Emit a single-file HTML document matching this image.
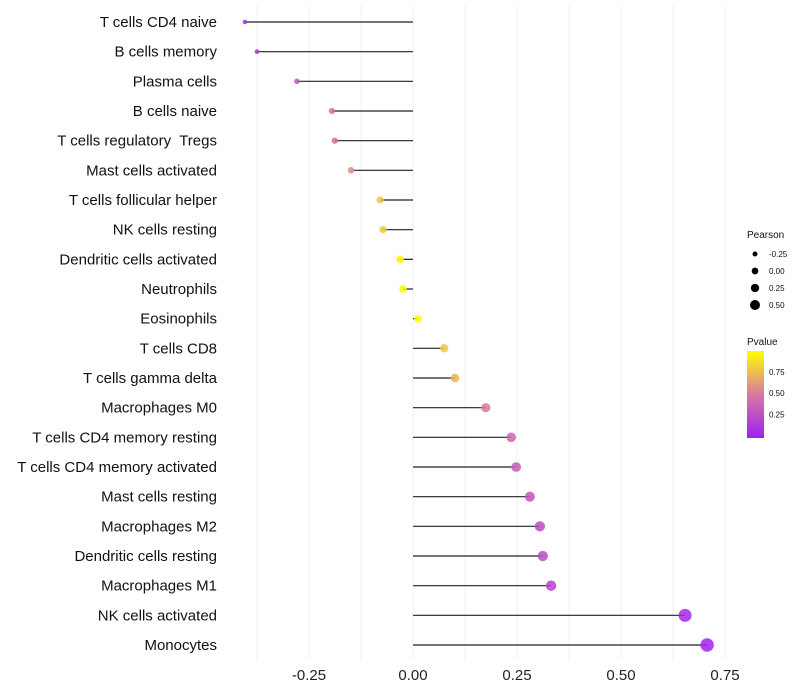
<!DOCTYPE html>
<html><head><meta charset="utf-8"><style>
body{margin:0;background:#fff;font-family:"Liberation Sans",sans-serif}
svg{display:block}
text{white-space:pre}
</style></head><body>
<svg id="chart" width="800" height="700"></svg>
<script>
const categories=["T cells CD4 naive","B cells memory","Plasma cells","B cells naive","T cells regulatory  Tregs","Mast cells activated","T cells follicular helper","NK cells resting","Dendritic cells activated","Neutrophils","Eosinophils","T cells CD8","T cells gamma delta","Macrophages M0","T cells CD4 memory resting","T cells CD4 memory activated","Mast cells resting","Macrophages M2","Dendritic cells resting","Macrophages M1","NK cells activated","Monocytes"];
const pearson=[-0.404,-0.375,-0.279,-0.195,-0.188,-0.149,-0.079,-0.072,-0.031,-0.024,0.012,0.075,0.101,0.175,0.236,0.248,0.281,0.305,0.312,0.332,0.654,0.707];
const pvalue=[0.08,0.1,0.3,0.45,0.45,0.58,0.78,0.8,0.95,0.97,1.0,0.78,0.72,0.5,0.4,0.35,0.3,0.25,0.25,0.2,0.05,0.02];
const xTicks=[-0.25,0,0.25,0.5,0.75];
const xTickLabels=["-0.25","0.00","0.25","0.50","0.75"];
const minorTicks=[-0.375,-0.125,0.125,0.375,0.625];
const sizeLegend=[-0.25,0,0.25,0.5];
const sizeLegendLabels=["-0.25","0.00","0.25","0.50"];
const colorTicks=[0.25,0.5,0.75];

const NS="http://www.w3.org/2000/svg";
const svg=document.getElementById('chart');
const x=v=>413+v*416;
const y=i=>22+i*(623/21);
const r=v=>3.9+v*4;
function lerp(a,b,t){return a.map((c,i)=>Math.round(c+(b[i]-c)*t));}
function col(p){const A=[160,32,240],M=[216,120,160],B=[255,255,0];
 const c=p<0.5?lerp(A,M,p/0.5):lerp(M,B,(p-0.5)/0.5);return `rgb(${c})`;}
function el(t,a){const e=document.createElementNS(NS,t);for(const k in a)e.setAttribute(k,a[k]);svg.appendChild(e);return e;}

[...xTicks,...minorTicks].forEach(v=>{
 const g=el('line',{x1:x(v),x2:x(v),y1:5,y2:660,stroke:'#f0f0f0','stroke-width':1});
 
 
});
xTicks.forEach((v,i)=>{
 const t=el('text',{x:x(v),y:680,'text-anchor':'middle','font-size':15,fill:'#222'});
 t.textContent=xTickLabels[i];
 
 
});
categories.forEach((c,i)=>{
 const t=el('text',{x:217,y:y(i)+5,'text-anchor':'end','font-size':15,fill:'#111'});
 t.textContent=c;
 
 
 const l=el('line',{x1:x(0),x2:x(pearson[i]),y1:y(i),y2:y(i),stroke:'#222','stroke-width':1.2});
 
 
 const d=el('circle',{cx:x(pearson[i]),cy:y(i),r:r(pearson[i]),fill:col(pvalue[i]),'fill-opacity':0.85});
 
 
});
const lt=el('text',{x:747,y:238,'font-size':10,fill:'#111'});lt.textContent='Pearson';


sizeLegend.forEach((v,i)=>{
 const cy=254+i*17;
 const c=el('circle',{cx:755,cy:cy,r:r(v)*0.85,fill:'#000'});
 
 
 const t=el('text',{x:769,y:cy+3,'font-size':8,fill:'#111'});t.textContent=sizeLegendLabels[i];
 
 
});
const ct=el('text',{x:747,y:345,'font-size':10,fill:'#111'});ct.textContent='Pvalue';


const defs=el('defs',{});
const lg=document.createElementNS(NS,'linearGradient');
lg.setAttribute('id','pg');lg.setAttribute('x1','0');lg.setAttribute('y1','1');lg.setAttribute('x2','0');lg.setAttribute('y2','0');
[0,0.25,0.5,0.75,1].forEach(o=>{const s=document.createElementNS(NS,'stop');s.setAttribute('offset',o);s.setAttribute('stop-color',col(o));lg.appendChild(s);});
defs.appendChild(lg);
const bar=el('rect',{x:747,y:351,width:17,height:87,fill:'url(#pg)'});


const cy=v=>438-(v+0.03)/1.03*87;
colorTicks.forEach(v=>{
 const t=el('text',{x:769,y:cy(v)+3,'font-size':8,fill:'#111'});t.textContent=v.toFixed(2);
 
 
});
</script>
</body></html>
